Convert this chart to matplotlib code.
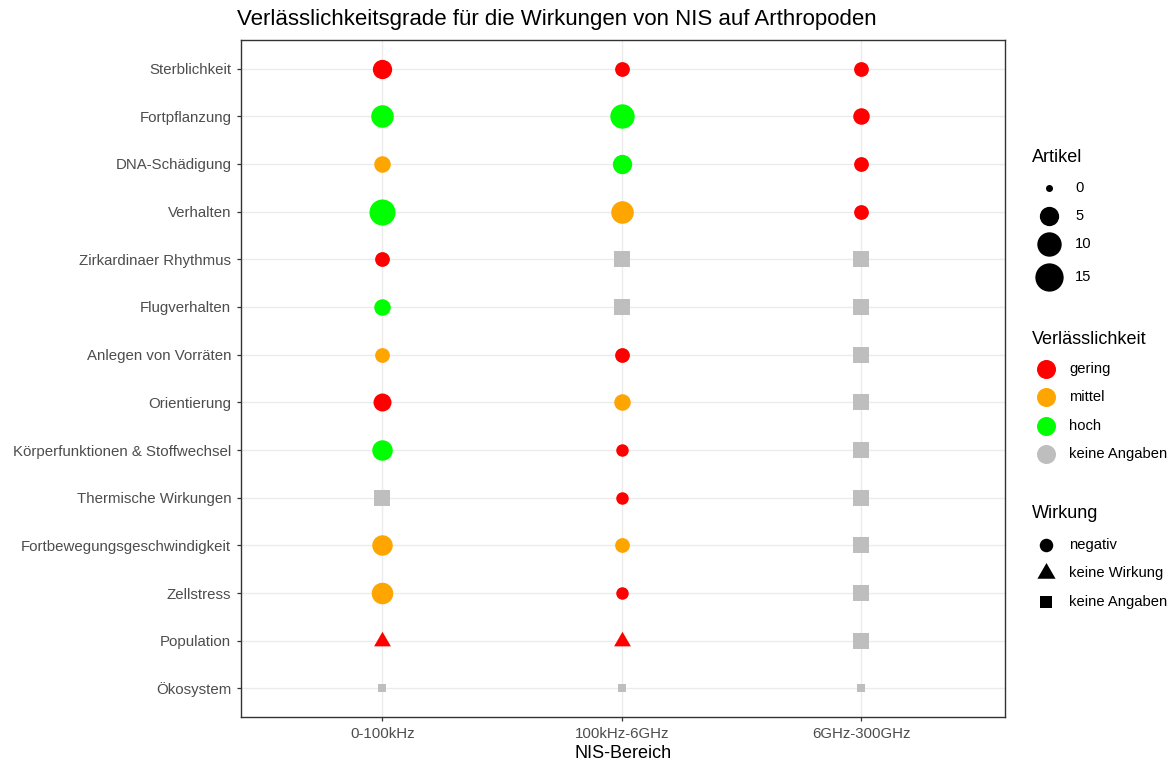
import matplotlib
matplotlib.use("Agg")
import matplotlib.pyplot as plt
from matplotlib.lines import Line2D
from matplotlib.path import Path
import numpy as np

plt.rcParams['font.family'] = ['Liberation Sans', 'DejaVu Sans']

# ---------------- data ----------------
wirkungen = ["Sterblichkeit", "Fortpflanzung", "DNA-Schädigung", "Verhalten",
             "Zirkardinaer Rhythmus", "Flugverhalten", "Anlegen von Vorräten",
             "Orientierung", "Körperfunktionen & Stoffwechsel", "Thermische Wirkungen",
             "Fortbewegungsgeschwindigkeit", "Zellstress", "Population", "Ökosystem"]
bereiche = ["0-100kHz", "100kHz-6GHz", "6GHz-300GHz"]

artikel_0_100k = [5, 8, 3, 12, 2, 3, 2, 4, 6, 4, 6, 7, 1, 0]
verl_0_100k = ["gering", "hoch", "mittel", "hoch", "gering", "hoch", "mittel", "gering",
               "hoch", "keine Angaben", "mittel", "mittel", "gering", "keine Angaben"]
wirk_0_100k = ["negativ"] * 9 + ["keine Angaben", "negativ", "negativ", "keine Wirkung", "keine Angaben"]

artikel_100k_6g = [2, 10, 5, 8, 3, 3, 2, 3, 1, 1, 2, 1, 1, 0]
verl_100k_6g = ["gering", "hoch", "hoch", "mittel", "keine Angaben", "keine Angaben", "gering",
                "mittel", "gering", "gering", "mittel", "gering", "gering", "keine Angaben"]
wirk_100k_6g = ["negativ", "negativ", "negativ", "negativ", "keine Angaben", "keine Angaben",
                "negativ", "negativ", "negativ", "negativ", "negativ", "negativ",
                "keine Wirkung", "keine Angaben"]

artikel_6g_300g = [2, 3, 2, 2, 3, 3, 3, 3, 3, 3, 3, 3, 3, 0]
verl_6g_300g = ["gering"] * 4 + ["keine Angaben"] * 10
wirk_6g_300g = ["negativ"] * 4 + ["keine Angaben"] * 10

artikel_legende = [0, 5, 10, 15]
verl_stufen = ["gering", "mittel", "hoch", "keine Angaben"]
verl_farben = ["#FF0000", "#FFA500", "#00FF00", "#BEBEBE"]
wirk_stufen = ["negativ", "keine Wirkung", "keine Angaben"]

# ---------------- styling helpers ----------------
DPI = 100
PX2PT = 72.0 / DPI
W, H = 1174, 765

tri_path = Path([(0, 1), (-0.8660254, -0.5), (0.8660254, -0.5), (0, 1)],
                [Path.MOVETO, Path.LINETO, Path.LINETO, Path.CLOSEPOLY])
form = {"negativ": "o", "keine Wirkung": tri_path, "keine Angaben": "s"}
farbe = dict(zip(verl_stufen, verl_farben))


def diam_px(v):
    return 7.0 + 5.5 * np.sqrt(v)


def ms_for(shape_key, d_px):
    if shape_key == "keine Angaben":
        return (0.886 * d_px + 1.0) * PX2PT
    if shape_key == "keine Wirkung":
        return 1.555 * d_px * PX2PT
    return d_px * PX2PT


fig = plt.figure(figsize=(W / DPI, H / DPI), dpi=DPI)
ax = fig.add_axes([241 / W, 1 - 717 / H, (1005 - 241) / W, (717 - 40) / H])

n = len(wirkungen)
ypos = {w: n - i for i, w in enumerate(wirkungen)}

spalten = [(artikel_0_100k, verl_0_100k, wirk_0_100k),
           (artikel_100k_6g, verl_100k_6g, wirk_100k_6g),
           (artikel_6g_300g, verl_6g_300g, wirk_6g_300g)]

for j, (art, verl, wirk) in enumerate(spalten):
    for i, w in enumerate(wirkungen):
        ax.plot([j + 1], [ypos[w]], linestyle="none", marker=form[wirk[i]],
                ms=ms_for(wirk[i], diam_px(art[i])), color=farbe[verl[i]],
                markeredgewidth=0, zorder=3)

ax.set_xlim(0.41, 3.6)
ax.set_ylim(0.4, n + 0.6)
ax.set_xticks(range(1, len(bereiche) + 1))
ax.set_xticklabels(bereiche)
ax.set_yticks([ypos[w] for w in wirkungen])
ax.set_yticklabels(wirkungen)
ax.grid(True, color="#EBEBEB", linewidth=1.0, zorder=0)
ax.set_axisbelow(True)
for s in ax.spines.values():
    s.set_color("#333333")
    s.set_linewidth(1.0)
ax.tick_params(axis="both", length=3, width=0.9, color="#333333",
               labelcolor="#4D4D4D", labelsize=10.8)
ax.tick_params(axis="y", pad=4)
ax.tick_params(axis="x", pad=4.5)

fig.text(237 / W, 1 - 20 / H, "Verlässlichkeitsgrade für die Wirkungen von NIS auf Arthropoden",
         ha="left", va="center", fontsize=16, color="black")
fig.text(623 / W, 1 - 754 / H, "NIS-Bereich", ha="center", va="center",
         fontsize=13, color="black")

# ---------------- legends (drawn manually) ----------------
def fx(x):
    return x / W


def fy(y):
    return 1 - y / H


def key(x, y, marker, ms, color):
    fig.add_artist(Line2D([fx(x)], [fy(y)], transform=fig.transFigure, linestyle="none",
                          marker=marker, ms=ms, color=color, markeredgewidth=0))


title_fs = 13
lab_fs = 10.6

fig.text(fx(1032), fy(157), "Artikel", ha="left", va="center", fontsize=title_fs)
for v, yy in zip(artikel_legende, [188, 216, 244, 277]):
    key(1049, yy, "o", ms_for("negativ", diam_px(v)), "black")
    fig.text(fx(1075), fy(yy), str(v), ha="left", va="center", fontsize=lab_fs, color="black")

fig.text(fx(1032), fy(340), "Verlässlichkeit", ha="left", va="center", fontsize=title_fs)
for st, c, yy in zip(verl_stufen, verl_farben, [369, 397, 426, 454]):
    key(1046, yy, "o", 19 * PX2PT, c)
    fig.text(fx(1069), fy(yy), st, ha="left", va="center", fontsize=lab_fs, color="black")

fig.text(fx(1032), fy(513), "Wirkung", ha="left", va="center", fontsize=title_fs)
for st, yy in zip(wirk_stufen, [545, 573, 602]):
    key(1046, yy, form[st], ms_for(st, 13.5), "black")
    fig.text(fx(1069), fy(yy), st, ha="left", va="center", fontsize=lab_fs, color="black")

fig.savefig("out.png", dpi=DPI)
